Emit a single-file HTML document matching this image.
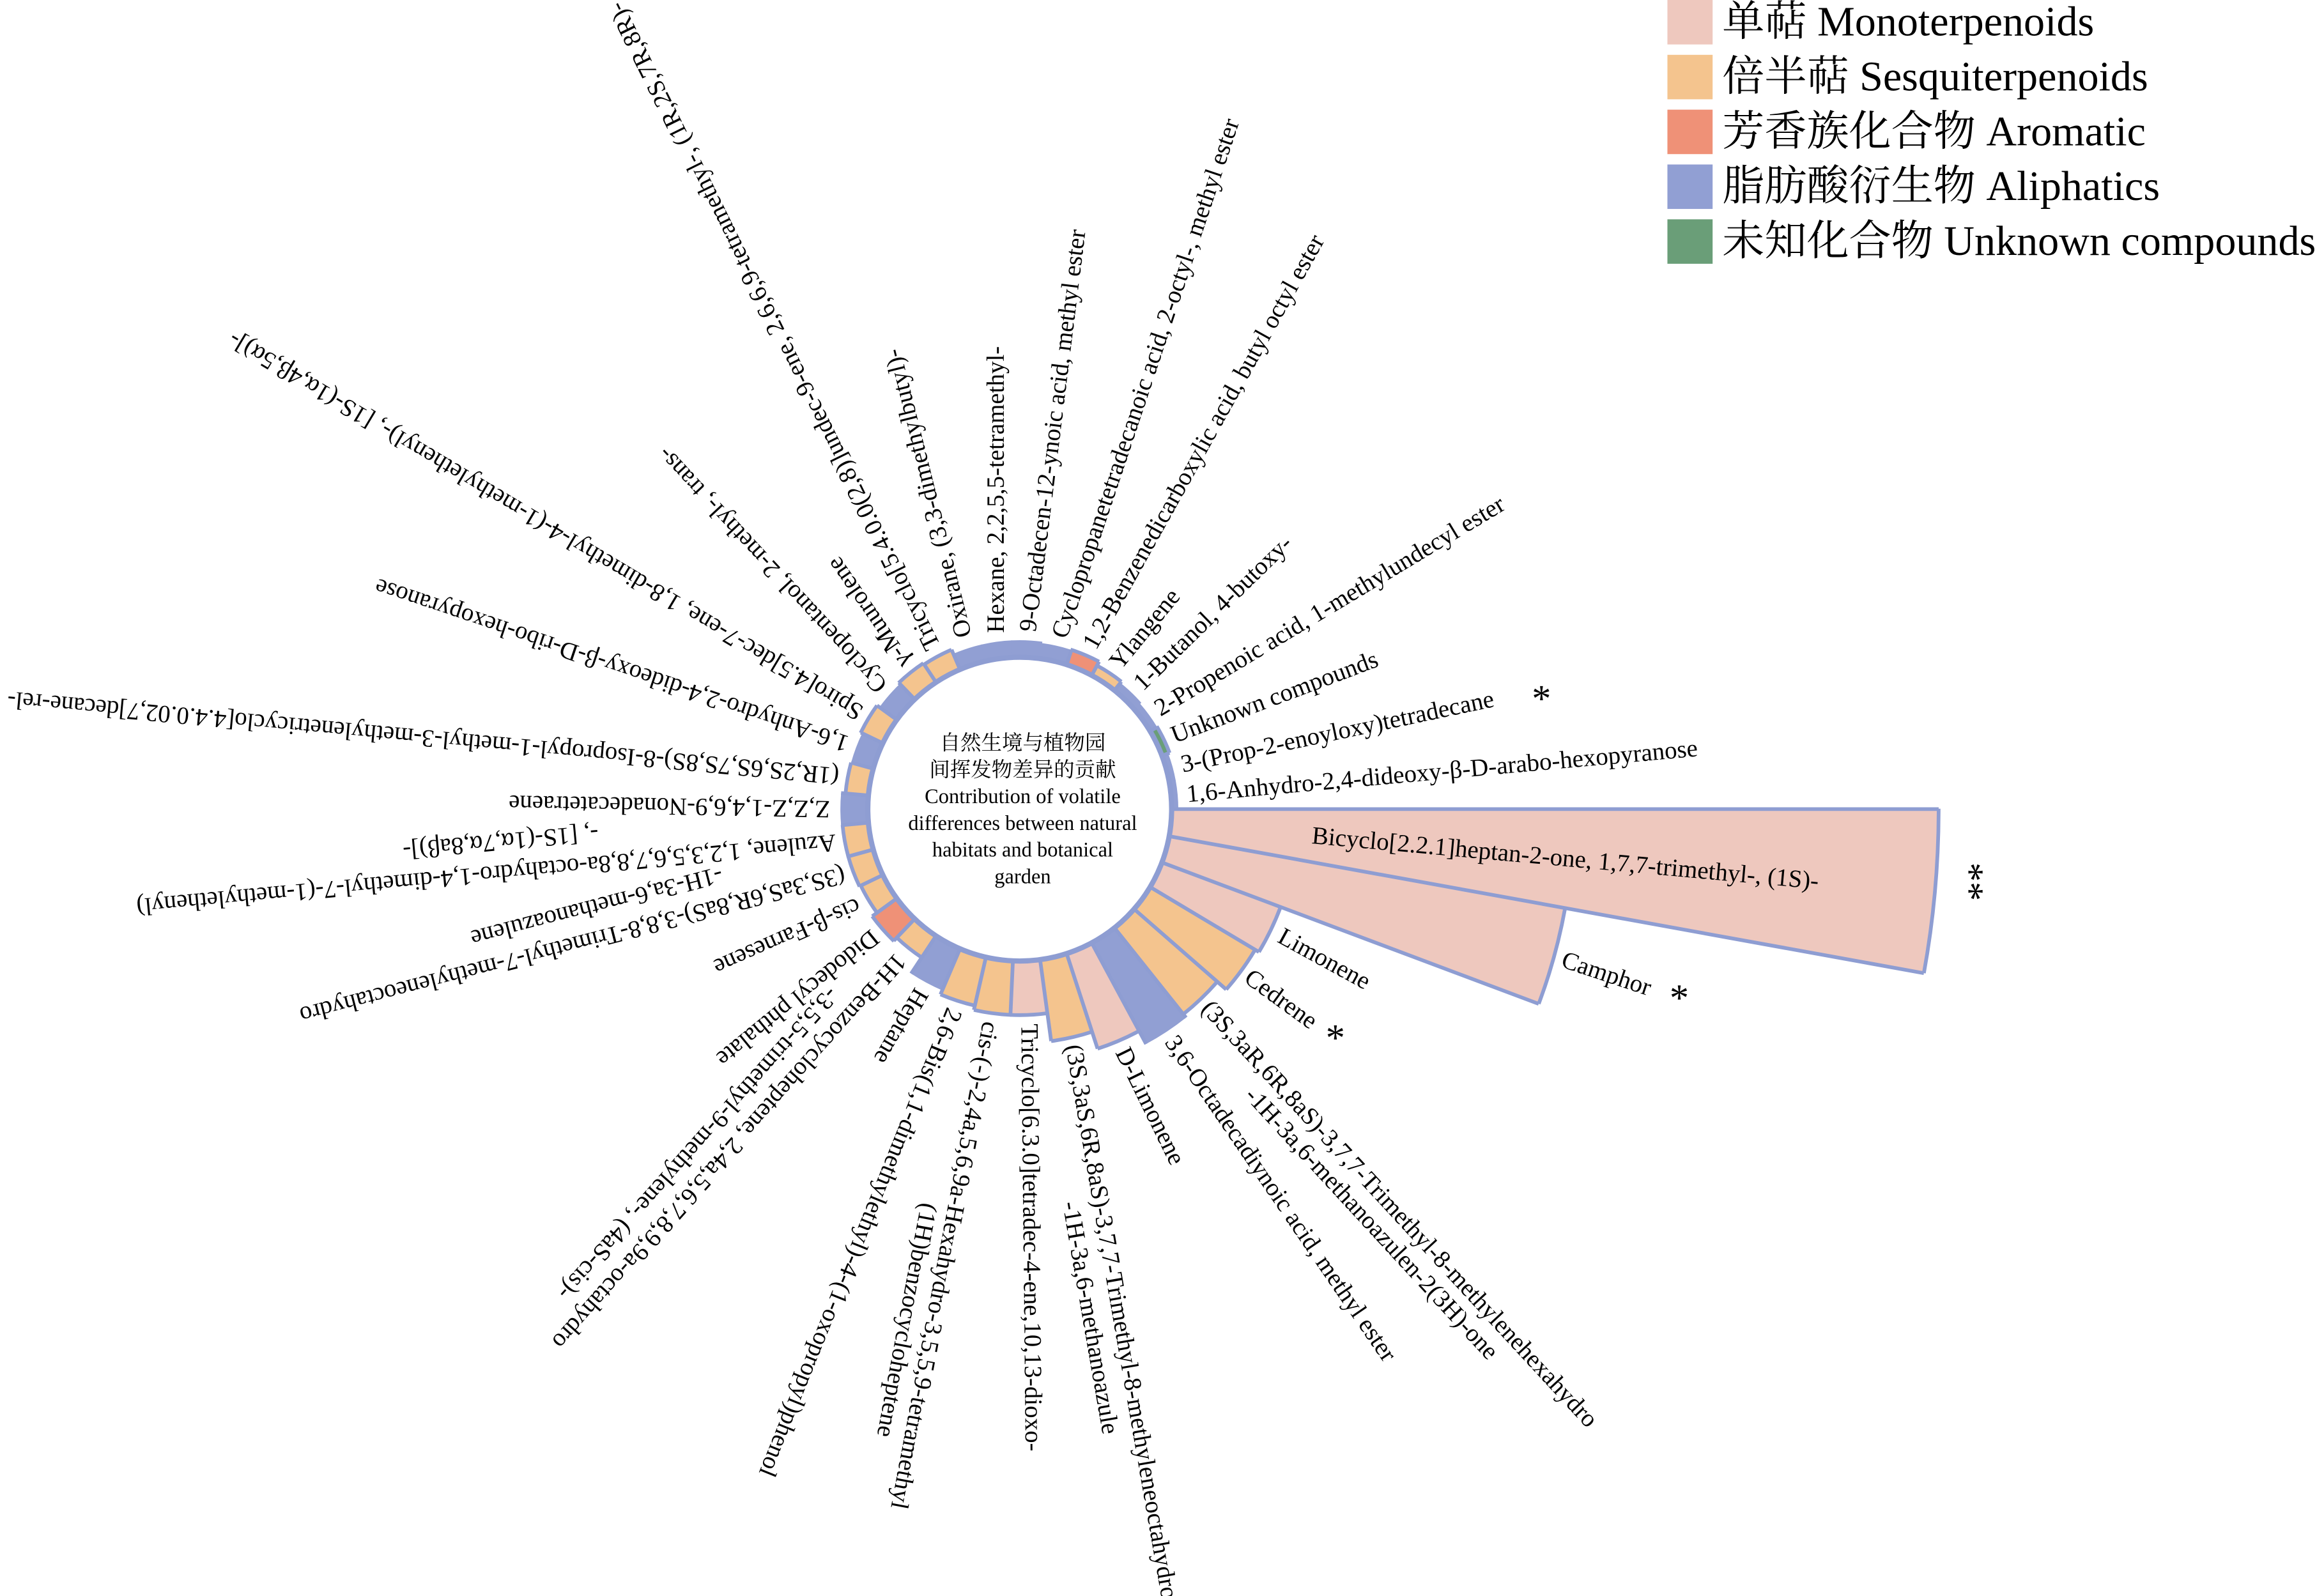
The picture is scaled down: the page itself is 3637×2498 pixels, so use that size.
<!DOCTYPE html>
<html><head><meta charset="utf-8"><style>
html,body{margin:0;padding:0;background:#fff;overflow:hidden}
svg{display:block}
text{font-family:"Liberation Serif","Noto Serif CJK SC","Noto Sans CJK SC",serif;fill:#000}
.l{font-size:16.8px;dominant-baseline:central}
</style></head><body>
<svg width="3637" height="2498" viewBox="0 0 1568 1077" preserveAspectRatio="none" xmlns="http://www.w3.org/2000/svg">
<rect width="1568" height="1077" fill="#fff"/>
<g transform="translate(688 546)">
<g fill="none" stroke-dasharray="1 34">
<circle r="361" stroke="#EEC8BE" stroke-width="518" pathLength="35" transform="rotate(0)"/>
<circle r="238" stroke="#EEC8BE" stroke-width="272" pathLength="35" transform="rotate(10.2857)"/>
<circle r="145" stroke="#EEC8BE" stroke-width="86" pathLength="35" transform="rotate(20.5714)"/>
<circle r="143.5" stroke="#F4C48E" stroke-width="83" pathLength="35" transform="rotate(30.8571)"/>
<circle r="139.5" stroke="#F4C48E" stroke-width="75" pathLength="35" transform="rotate(41.1429)"/>
<circle r="141" stroke="#919FD3" stroke-width="78" pathLength="35" transform="rotate(51.4286)"/>
<circle r="136" stroke="#EEC8BE" stroke-width="68" pathLength="35" transform="rotate(61.7143)"/>
<circle r="130" stroke="#F4C48E" stroke-width="56" pathLength="35" transform="rotate(72)"/>
<circle r="120.5" stroke="#EEC8BE" stroke-width="37" pathLength="35" transform="rotate(82.2857)"/>
<circle r="120.5" stroke="#F4C48E" stroke-width="37" pathLength="35" transform="rotate(92.5714)"/>
<circle r="119" stroke="#F4C48E" stroke-width="34" pathLength="35" transform="rotate(102.857)"/>
<circle r="117.5" stroke="#919FD3" stroke-width="31" pathLength="35" transform="rotate(113.143)"/>
<circle r="111" stroke="#F4C48E" stroke-width="18" pathLength="35" transform="rotate(123.429)"/>
<circle r="112.5" stroke="#EF9177" stroke-width="21" pathLength="35" transform="rotate(133.714)"/>
<circle r="110.5" stroke="#F4C48E" stroke-width="17" pathLength="35" transform="rotate(144)"/>
<circle r="111" stroke="#F4C48E" stroke-width="18" pathLength="35" transform="rotate(154.286)"/>
<circle r="111" stroke="#F4C48E" stroke-width="18" pathLength="35" transform="rotate(164.571)"/>
<circle r="111.5" stroke="#919FD3" stroke-width="19" pathLength="35" transform="rotate(174.857)"/>
<circle r="110" stroke="#F4C48E" stroke-width="16" pathLength="35" transform="rotate(185.143)"/>
<circle r="110" stroke="#919FD3" stroke-width="16" pathLength="35" transform="rotate(195.429)"/>
<circle r="110.5" stroke="#F4C48E" stroke-width="17" pathLength="35" transform="rotate(205.714)"/>
<circle r="109.5" stroke="#919FD3" stroke-width="15" pathLength="35" transform="rotate(216)"/>
<circle r="110" stroke="#F4C48E" stroke-width="16" pathLength="35" transform="rotate(226.286)"/>
<circle r="109.5" stroke="#F4C48E" stroke-width="15" pathLength="35" transform="rotate(236.571)"/>
<circle r="108" stroke="#919FD3" stroke-width="12" pathLength="35" transform="rotate(246.857)"/>
<circle r="108" stroke="#919FD3" stroke-width="12" pathLength="35" transform="rotate(257.143)"/>
<circle r="108" stroke="#919FD3" stroke-width="12" pathLength="35" transform="rotate(267.429)"/>
<circle r="107.5" stroke="#919FD3" stroke-width="11" pathLength="35" transform="rotate(277.714)"/>
<circle r="107.5" stroke="#EF9177" stroke-width="11" pathLength="35" transform="rotate(288)"/>
<circle r="106" stroke="#F4C48E" stroke-width="8" pathLength="35" transform="rotate(298.286)"/>
<circle r="105.5" stroke="#919FD3" stroke-width="7" pathLength="35" transform="rotate(308.571)"/>
<circle r="105" stroke="#919FD3" stroke-width="6" pathLength="35" transform="rotate(318.857)"/>
<circle r="105" stroke="#6A9E78" stroke-width="6" pathLength="35" transform="rotate(329.143)"/>
<circle r="104.5" stroke="#919FD3" stroke-width="5" pathLength="35" transform="rotate(339.429)"/>
<circle r="104.5" stroke="#919FD3" stroke-width="5" pathLength="35" transform="rotate(349.714)"/>
</g>
<g fill="none" stroke="#8E9DD2" stroke-width="2.5" stroke-dasharray="1 34">
<circle r="620" pathLength="35" transform="rotate(0)"/>
<circle r="374" pathLength="35" transform="rotate(10.2857)"/>
<circle r="188" pathLength="35" transform="rotate(20.5714)"/>
<circle r="185" pathLength="35" transform="rotate(30.8571)"/>
<circle r="177" pathLength="35" transform="rotate(41.1429)"/>
<circle r="170" pathLength="35" transform="rotate(61.7143)"/>
<circle r="158" pathLength="35" transform="rotate(72)"/>
<circle r="139" pathLength="35" transform="rotate(82.2857)"/>
<circle r="139" pathLength="35" transform="rotate(92.5714)"/>
<circle r="136" pathLength="35" transform="rotate(102.857)"/>
<circle r="120" pathLength="35" transform="rotate(123.429)"/>
<circle r="123" pathLength="35" transform="rotate(133.714)"/>
<circle r="119" pathLength="35" transform="rotate(144)"/>
<circle r="120" pathLength="35" transform="rotate(154.286)"/>
<circle r="120" pathLength="35" transform="rotate(164.571)"/>
<circle r="118" pathLength="35" transform="rotate(185.143)"/>
<circle r="119" pathLength="35" transform="rotate(205.714)"/>
<circle r="118" pathLength="35" transform="rotate(226.286)"/>
<circle r="117" pathLength="35" transform="rotate(236.571)"/>
<circle r="113" pathLength="35" transform="rotate(288)"/>
<circle r="110" pathLength="35" transform="rotate(298.286)"/>
<circle r="108" pathLength="35" transform="rotate(329.143)"/>
</g>
<g stroke="#8E9DD2" stroke-width="2.5">
<line x1="102" x2="620"/>
<line x1="102" x2="620" transform="rotate(10.2857)"/>
<line x1="102" x2="374" transform="rotate(20.5714)"/>
<line x1="102" x2="188" transform="rotate(30.8571)"/>
<line x1="102" x2="185" transform="rotate(41.1429)"/>
<line x1="102" x2="180" transform="rotate(51.4286)"/>
<line x1="102" x2="180" transform="rotate(61.7143)"/>
<line x1="102" x2="170" transform="rotate(72)"/>
<line x1="102" x2="158" transform="rotate(82.2857)"/>
<line x1="102" x2="139" transform="rotate(92.5714)"/>
<line x1="102" x2="139" transform="rotate(102.857)"/>
<line x1="102" x2="136" transform="rotate(113.143)"/>
<line x1="102" x2="133" transform="rotate(123.429)"/>
<line x1="102" x2="123" transform="rotate(133.714)"/>
<line x1="102" x2="123" transform="rotate(144)"/>
<line x1="102" x2="120" transform="rotate(154.286)"/>
<line x1="102" x2="120" transform="rotate(164.571)"/>
<line x1="102" x2="121" transform="rotate(174.857)"/>
<line x1="102" x2="121" transform="rotate(185.143)"/>
<line x1="102" x2="118" transform="rotate(195.429)"/>
<line x1="102" x2="119" transform="rotate(205.714)"/>
<line x1="102" x2="119" transform="rotate(216)"/>
<line x1="102" x2="118" transform="rotate(226.286)"/>
<line x1="102" x2="118" transform="rotate(236.571)"/>
<line x1="102" x2="117" transform="rotate(246.857)"/>
<line x1="102" x2="113" transform="rotate(288)"/>
<line x1="102" x2="113" transform="rotate(298.286)"/>
<line x1="102" x2="110" transform="rotate(308.571)"/>
<line x1="102" x2="108" transform="rotate(329.143)"/>
<line x1="102" x2="108" transform="rotate(339.429)"/>
</g>
<circle r="102.5" fill="#fff" stroke="#8E9DD2" stroke-width="3.5"/>

<text class="l" transform="rotate(5.143) translate(198 0)">Bicyclo[2.2.1]heptan-2-one, 1,7,7-trimethyl-, (1S)-</text>
<text class="l" transform="rotate(15.429) translate(380 0) rotate(3)">Camphor</text>
<text class="l" transform="rotate(25.714) translate(195 0) rotate(3)">Limonene</text>
<text class="l" transform="rotate(36) translate(190 0)">Cedrene</text>
<text class="l" transform="rotate(46.286) translate(182 0) rotate(1)">(3S,3aR,6R,8aS)-3,7,7-Trimethyl-8-methylenehexahydro<tspan x="63" dy="18">-1H-3a,6-methanoazulen-2(3H)-one</tspan></text>
<text class="l" transform="rotate(56.571) translate(185 0) rotate(-1)">3,6-Octadecadiynoic acid, methyl ester</text>
<text class="l" transform="rotate(66.857) translate(176 0) rotate(-3)">D-Limonene</text>
<text class="l" transform="rotate(77.143) translate(163 0) rotate(3)">(3S,3aS,6R,8aS)-3,7,7-Trimethyl-8-methyleneoctahydro<tspan x="104" dy="20">-1H-3a,6-methanoazule</tspan></text>
<text class="l" transform="rotate(87.429) translate(145 0) rotate(2)">Tricyclo[6.3.0]tetradec-4-ene,10,13-dioxo-</text>
<text class="l" transform="rotate(97.714) translate(145 0) rotate(3)">cis-(-)-2,4a,5,6,9a-Hexahydro-3,5,5,9-tetramethyl<tspan x="128" dy="18">(1H)benzocycloheptene</tspan></text>
<text class="l" transform="rotate(108) translate(142 0) rotate(4)">2,6-Bis(1,1-dimethylethyl)-4-(1-oxopropyl)phenol</text>
<text class="l" transform="rotate(118.286) translate(139 0) rotate(2)">Heptane</text>
<text class="l" transform="rotate(128.571) translate(128 0) rotate(3)">1H-Benzocycloheptene, 2,4a,5,6,7,8,9,9a-octahydro<tspan x="47" dy="19">-3,5,5-trimethyl-9-methylene-, (4aS-cis)-</tspan></text>
<text class="l" transform="rotate(138.857) translate(129 0) rotate(2)">Didodecyl phthalate</text>
<text class="l" transform="rotate(149.143) translate(126 0) rotate(7)">cis-β-Farnesene</text>
<text class="l" transform="rotate(159.429) translate(126 0) rotate(6)">(3S,3aS,6R,8aS)-3,8,8-Trimethyl-7-methyleneoctahydro<tspan x="80" dy="21">-1H-3a,6-methanoazulene</tspan></text>
<text class="l" transform="rotate(169.714) translate(126 0) rotate(5)">Azulene, 1,2,3,5,6,7,8,8a-octahydro-1,4-dimethyl-7-(1-methylethenyl)<tspan x="159" dy="21">-, [1S-(1α,7α,8aβ)]-</tspan></text>
<text class="l" transform="rotate(180) translate(128 0) rotate(1)">Z,Z,Z-1,4,6,9-Nonadecatetraene</text>
<text class="l" transform="rotate(190.286) translate(124 0) rotate(-5)">(1R,2S,6S,7S,8S)-8-Isopropyl-1-methyl-3-methylenetricyclo[4.4.0.02,7]decane-rel-</text>
<text class="l" transform="rotate(200.571) translate(124 0) rotate(-2)">1,6-Anhydro-2,4-dideoxy-β-D-ribo-hexopyranose</text>
<text class="l" transform="rotate(210.857) translate(125 0)">Spiro[4.5]dec-7-ene, 1,8-dimethyl-4-(1-methylethenyl)-, [1S-(1α,4β,5α)]-</text>
<text class="l" transform="rotate(221.143) translate(123 0) rotate(6)">Cyclopentanol, 2-methyl-, trans-</text>
<text class="l" transform="rotate(231.429) translate(124 0) rotate(4)">γ-Muurolene</text>
<text class="l" transform="rotate(241.714) translate(123 0) rotate(2)">Tricyclo[5.4.0.0(2,8)]undec-9-ene, 2,6,6,9-tetramethyl-, (1R,2S,7R,8R)-</text>
<text class="l" transform="rotate(252) translate(122 0) rotate(4)">Oxirane, (3,3-dimethylbutyl)-</text>
<text class="l" transform="rotate(262.286) translate(120 0) rotate(7.7)">Hexane, 2,2,5,5-tetramethyl-</text>
<text class="l" transform="rotate(272.571) translate(120 0) rotate(4.5)">9-Octadecen-12-ynoic acid, methyl ester</text>
<text class="l" transform="rotate(282.857) translate(119 0) rotate(5.6)">Cyclopropanetetradecanoic acid, 2-octyl-, methyl ester</text>
<text class="l" transform="rotate(293.143) translate(119 0) rotate(6)">1,2-Benzenedicarboxylic acid, butyl octyl ester</text>
<text class="l" transform="rotate(303.429) translate(116 0) rotate(6)">Ylangene</text>
<text class="l" transform="rotate(313.714) translate(115 0) rotate(2)">1-Butanol, 4-butoxy-</text>
<text class="l" transform="rotate(324) translate(114 0) rotate(5)">2-Propenoic acid, 1-methylundecyl ester</text>
<text class="l" transform="rotate(334.286) translate(114 0) rotate(5)">Unknown compounds</text>
<text class="l" transform="rotate(344.571) translate(113 0) rotate(3.5)">3-(Prop-2-enoyloxy)tetradecane</text>
<text class="l" transform="rotate(354.857) translate(113 0)">1,6-Anhydro-2,4-dideoxy-β-D-arabo-hexopyranose</text>
</g>

<g font-size="26" text-anchor="middle">
<text transform="translate(1329 595) rotate(90)" dominant-baseline="central">**</text>
<text x="1133" y="682">*</text>
<text x="901" y="709">*</text>
<text x="1040" y="480">*</text>
</g>

<g font-size="14" text-anchor="middle">
<text x="690" y="506" font-family="Noto Sans CJK SC, sans-serif">自然生境与植物园</text>
<text x="690" y="524" font-family="Noto Sans CJK SC, sans-serif">间挥发物差异的贡献</text>
<text x="690" y="542">Contribution of volatile</text>
<text x="690" y="560">differences between natural</text>
<text x="690" y="578">habitats and botanical</text>
<text x="690" y="596">garden</text>
</g>

<g>
<rect x="1125" y="0" width="30.5" height="30" fill="#EEC8BE"/>
<rect x="1125" y="37" width="30.5" height="30" fill="#F4C48E"/>
<rect x="1125" y="74" width="30.5" height="30" fill="#EF9177"/>
<rect x="1125" y="111" width="30.5" height="30" fill="#919FD3"/>
<rect x="1125" y="148" width="30.5" height="30" fill="#6A9E78"/>
<g font-size="28.5">
<text x="1162" y="24">单萜 Monoterpenoids</text>
<text x="1162" y="61">倍半萜 Sesquiterpenoids</text>
<text x="1162" y="98">芳香族化合物 Aromatic</text>
<text x="1162" y="135">脂肪酸衍生物 Aliphatics</text>
<text x="1162" y="172">未知化合物 Unknown compounds</text>
</g>
</g>
</svg>
</body></html>
